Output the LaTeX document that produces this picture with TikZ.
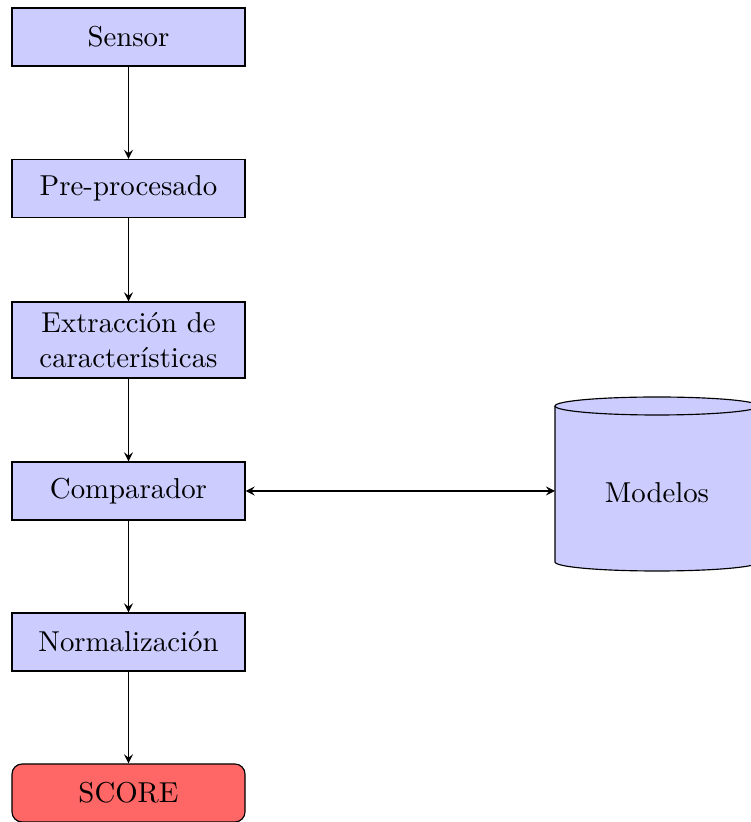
\documentclass[tikz,border=0pt]{standalone}
\usetikzlibrary{arrows}
\begin{document}
\begin{tikzpicture}[x=0.3472pt, y=0.3472pt, >=stealth,
  block/.style={draw, fill=blue!20, minimum width=80.9pt, minimum height=20.14pt,
    align=center, inner sep=2pt},
  result/.style={block, fill=red!60, rounded corners=3.5pt},
  flow/.style={->}]
  \useasboundingbox (0,0) rectangle (750,822);

  % processing chain
  \node[block] (sen) at (128.5,785) {Sensor};
  \node[block] (pre) at (128.5,633.5) {Pre-procesado};
  \node[block, minimum height=26.4pt] (ext) at (128.5,482) {Extracción de\\características};
  \node[block] (cmp) at (128.5,331) {Comparador};
  \node[block] (nor) at (128.5,180) {Normalización};
  \node[result] (sco) at (128.5,29) {SCORE};

  % model database
  \fill[blue!20] (555,416) -- (555,260) arc[start angle=180, end angle=360, x radius=102, y radius=9]
    -- (759,416) arc[start angle=0, end angle=180, x radius=102, y radius=9] -- cycle;
  \draw (555,416) -- (555,260) arc[start angle=180, end angle=360, x radius=102, y radius=9]
    -- (759,416);
  \draw (657,416) ellipse[x radius=102, y radius=9];
  \node (mod) at (657,329) {Modelos};
  \coordinate (db) at (555,331);

  % connectors
  \draw[flow] (sen) -- (pre);
  \draw[flow] (pre) -- (ext);
  \draw[flow] (ext) -- (cmp);
  \draw[flow] (cmp) -- (nor);
  \draw[flow] (nor) -- (sco);
  \draw[<->] (cmp.east) -- (db);
\end{tikzpicture}
\end{document}
